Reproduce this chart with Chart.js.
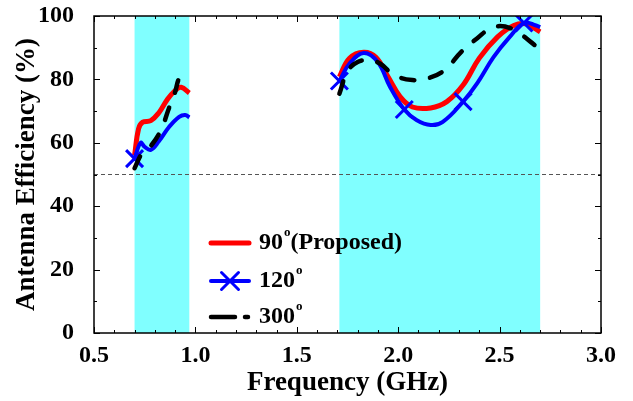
<!DOCTYPE html>
<html>
<head>
<meta charset="utf-8">
<script src="https://cdn.jsdelivr.net/npm/chart.js@4/dist/chart.umd.min.js"></script>
<style>
  html, body { margin: 0; padding: 0; background: #fff; }
  #wrap { width: 633px; height: 401px; }
</style>
</head>
<body>
<div id="wrap"><canvas id="effChart" width="633" height="401"></canvas></div>
<script>
// Frequency (GHz) / efficiency (%), null = gap between bands
const freqRed = [0.70, 0.72, 0.74, 0.78, 0.82, 0.86, 0.90, 0.93, 0.97, 1.30,
  1.71, 1.76, 1.83, 1.89, 1.95, 2.01, 2.07, 2.16, 2.24, 2.32, 2.40, 2.49, 2.57, 2.63, 2.70]
const effRed = [56, 64.5, 66.5, 67, 69.5, 73.5, 76.5, 77.5, 75.7, null,
  80.8, 86.7, 88.6, 87, 80.8, 74.5, 71.3, 71, 73, 78.2, 86.7, 93.4, 97, 97.5, 95]

const freqBlue = [0.70, 0.73, 0.75, 0.78, 0.82, 0.87, 0.92, 0.95, 0.97, 1.30,
  1.71, 1.76, 1.83, 1.90, 1.96, 2.03, 2.09, 2.16, 2.22, 2.32, 2.39, 2.47, 2.55, 2.62, 2.68, 2.70]
const effBlue = [55, 60, 58.7, 57.8, 60.5, 65, 68.2, 68.8, 68, null,
  79.5, 85, 88.3, 85.4, 77.6, 70.5, 67.2, 65.6, 66.6, 73, 78.8, 87, 93.4, 97.8, 97, 96.5]
const blueMarkers = [0.70, 1.71, 2.03, 2.32, 2.62]

const freqBlack = [0.70, 0.74, 0.78, 0.83, 0.87, 0.90, 0.92, 0.95, 0.97, 1.30,
  1.71, 1.75, 1.80, 1.86, 1.91, 1.98, 2.07, 2.15, 2.23, 2.31, 2.39, 2.47, 2.56, 2.65, 2.70]
const effBlack = [52, 57, 59, 64, 71, 76, 80.4, 82.5, 82, null,
  75.5, 82.5, 85.5, 86, 85, 81.4, 79.8, 80.4, 83, 88.6, 93, 96.5, 96, 92, 89.3]

const refFreq = [0.5, 3.0]
const refEff = [50, 50]

const bands = [[0.70, 0.97], [1.71, 2.70]]
const xTicks = [0.5, 1.0, 1.5, 2.0, 2.5, 3.0]
const yTicks = [0, 20, 40, 60, 80, 100]

const serif = '"Liberation Serif", "Times New Roman", serif'

function toPoints(fs, vs) {
    return fs.map((f, i) => ({x: f, y: vs[i]}))
}

// cyan bands, inward ticks, frame and the legend
const decorPlugin = {
    id: 'decor',
    beforeDatasetsDraw(chart) {
        const {ctx, chartArea: a, scales: {x}} = chart
        ctx.save()
        ctx.fillStyle = '#80FFFF'
        bands.forEach(b => {
            const x1 = x.getPixelForValue(b[0])
            const x2 = x.getPixelForValue(b[1])
            ctx.fillRect(x1, a.top, x2 - x1, a.bottom - a.top)
        })
        ctx.restore()
    },
    afterDatasetsDraw(chart) {
        const {ctx, chartArea: a, scales: {x, y}} = chart
        ctx.save()
        ctx.strokeStyle = '#000'
        ctx.lineWidth = 1
        ctx.beginPath()
        for (let v = 0.5; v <= 3.0001; v += 0.1) {
            const px = Math.round(x.getPixelForValue(v)) + 0.5
            const major = Math.abs(v * 2 - Math.round(v * 2)) < 0.001
            const len = major ? 6 : 3
            ctx.moveTo(px, a.bottom); ctx.lineTo(px, a.bottom - len)
            ctx.moveTo(px, a.top); ctx.lineTo(px, a.top + len)
        }
        for (let v = 0; v <= 100; v += 10) {
            const py = Math.round(y.getPixelForValue(v)) + 0.5
            const len = v % 20 === 0 ? 6 : 3
            ctx.moveTo(a.left, py); ctx.lineTo(a.left + len, py)
            ctx.moveTo(a.right, py); ctx.lineTo(a.right - len, py)
        }
        ctx.stroke()
        ctx.lineWidth = 1.5
        ctx.strokeRect(a.left, a.top, a.right - a.left, a.bottom - a.top)

        // legend
        const lx = 209, tx = 259
        const rows = [
            {y: 243, label: '90', tail: '(Proposed)'},
            {y: 281, label: '120', tail: ''},
            {y: 317, label: '300', tail: ''}
        ]
        ctx.lineCap = 'round'
        ctx.strokeStyle = '#FF0000'; ctx.lineWidth = 5
        ctx.beginPath(); ctx.moveTo(lx + 2, rows[0].y); ctx.lineTo(lx + 40, rows[0].y); ctx.stroke()
        ctx.strokeStyle = '#0000FF'; ctx.lineWidth = 4
        ctx.beginPath(); ctx.moveTo(lx + 2, rows[1].y); ctx.lineTo(lx + 40, rows[1].y); ctx.stroke()
        ctx.lineWidth = 3
        const cx = lx + 21, r = 8.5
        ctx.beginPath()
        ctx.moveTo(cx - r, rows[1].y - r); ctx.lineTo(cx + r, rows[1].y + r)
        ctx.moveTo(cx + r, rows[1].y - r); ctx.lineTo(cx - r, rows[1].y + r)
        ctx.stroke()
        ctx.strokeStyle = '#000'; ctx.lineWidth = 4.5
        ctx.beginPath()
        ctx.moveTo(lx + 2, rows[2].y); ctx.lineTo(lx + 26, rows[2].y)
        ctx.moveTo(lx + 36, rows[2].y); ctx.lineTo(lx + 39, rows[2].y)
        ctx.stroke()

        ctx.fillStyle = '#000'
        ctx.textBaseline = 'middle'
        rows.forEach(row => {
            ctx.font = 'bold 24px ' + serif
            ctx.fillText(row.label, tx, row.y)
            let w = ctx.measureText(row.label).width
            ctx.font = 'bold 13px ' + serif
            ctx.fillText('o', tx + w + 1, row.y - 10)
            w += ctx.measureText('o').width + 1
            if (row.tail) {
                ctx.font = 'bold 24px ' + serif
                ctx.fillText(row.tail, tx + w, row.y)
            }
        })
        ctx.restore()
    }
}

const config = {
    type: 'line',
    data: {
        datasets: [
            {
                label: '90°(Proposed)',
                data: toPoints(freqRed, effRed),
                borderColor: '#FF0000',
                borderWidth: 5,
                pointRadius: 0,
                tension: 0.4,
                order: 3
            },
            {
                label: '120°',
                data: toPoints(freqBlue, effBlue),
                borderColor: '#0000FF',
                borderWidth: 4,
                pointStyle: 'crossRot',
                pointRadius: ctx => (ctx.raw && blueMarkers.includes(ctx.raw.x)) ? 12 : 0,
                pointBorderColor: '#0000FF',
                pointBorderWidth: 3,
                tension: 0.4,
                order: 2
            },
            {
                label: '300°',
                data: toPoints(freqBlack, effBlack),
                borderColor: '#000000',
                borderWidth: 4.5,
                borderDash: [13, 16],
                borderCapStyle: 'round',
                pointRadius: 0,
                tension: 0.4,
                order: 1
            },
            {
                label: 'ref',
                data: toPoints(refFreq, refEff),
                borderColor: '#555555',
                borderWidth: 1,
                borderDash: [4, 3],
                pointRadius: 0,
                order: 4
            }
        ]
    },
    options: {
        responsive: false,
        animation: false,
        spanGaps: false,
        layout: { padding: { top: 16, right: 32, left: 0, bottom: 0 } },
        scales: {
            x: {
                type: 'linear',
                min: 0.5,
                max: 3.0,
                afterFit: s => { s.height = 68; s.paddingLeft = 0; s.paddingRight = 0 },
                afterBuildTicks: s => { s.ticks = xTicks.map(v => ({value: v})) },
                grid: { display: false },
                border: { display: false },
                ticks: {
                    padding: 0,
                    color: '#000',
                    font: { family: serif, size: 24, weight: 'bold' },
                    callback: v => v.toFixed(1)
                },
                title: {
                    display: true,
                    text: 'Frequency (GHz)',
                    color: '#000',
                    font: { family: serif, size: 27, weight: 'bold' },
                    padding: { top: 0, bottom: 2 }
                }
            },
            y: {
                min: 0,
                max: 100,
                afterFit: s => { s.width = 94; s.paddingTop = 0; s.paddingBottom = 0 },
                afterBuildTicks: s => { s.ticks = yTicks.map(v => ({value: v})) },
                grid: { display: false },
                border: { display: false },
                ticks: {
                    padding: 12,
                    color: '#000',
                    font: { family: serif, size: 24, weight: 'bold' }
                },
                title: {
                    display: true,
                    text: 'Antenna Efficiency (%)',
                    color: '#000',
                    font: { family: serif, size: 27, weight: 'bold' },
                    padding: { top: 11, bottom: 0 }
                }
            }
        },
        plugins: {
            legend: { display: false },
            tooltip: { enabled: false }
        }
    },
    plugins: [decorPlugin]
}

const effChart = new Chart(document.getElementById('effChart'), config)
</script>
</body>
</html>
